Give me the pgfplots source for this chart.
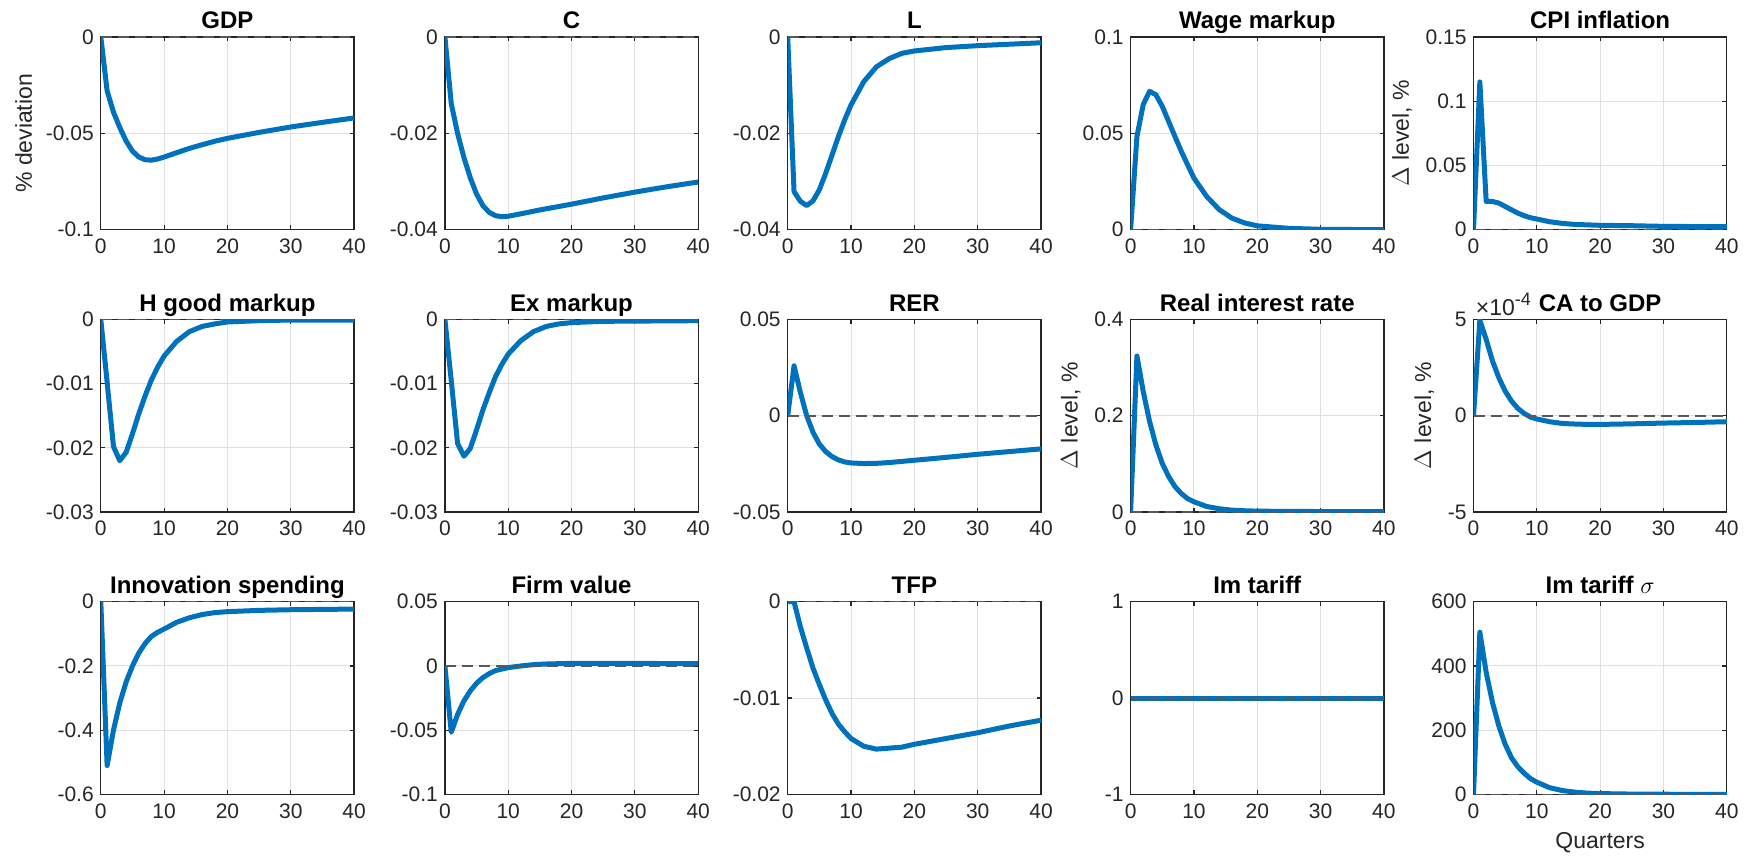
\documentclass[border=0pt]{standalone}
\usepackage{fontspec}
\setmainfont{Liberation Sans}
\usepackage{pgfplots}
\pgfplotsset{compat=1.18}
\definecolor{mblue}{RGB}{0,114,189}
\definecolor{axgray}{RGB}{38,38,38}
\definecolor{gridgray}{RGB}{224,224,224}
\pgfplotsset{
 irf/.style={
  scale only axis, width=126.65pt, height=96.35pt,
  anchor=north west,
  xmin=0, xmax=40, xtick={0,10,20,30,40}, xticklabels={0,10,20,30,40},
  scaled y ticks=false, scaled x ticks=false,
  grid=major, major grid style={gridgray, line width=0.5pt},
  axis line style={axgray, line width=0.6pt},
  tick style={axgray, line width=0.6pt},
  major tick length=2.2pt, tick align=inside,
  ticklabel style={font=\fontsize{10.5}{12}\selectfont, text=axgray},
  xticklabel style={yshift=-1pt},
  title style={font=\fontsize{12}{14}\selectfont\bfseries, at={(0.5,1)}, anchor=base, yshift=-2pt},
  label style={font=\fontsize{11.5}{13}\selectfont, text=axgray},
  clip mode=individual,
 },
 irfline/.style={mblue, line width=2.5pt, line join=round},
 zeroline/.style={black!65, line width=0.8pt, dash pattern=on 5.5pt off 3pt},
}
\begin{document}
\begin{tikzpicture}
\useasboundingbox (0,0) rectangle (878.5pt,-430pt);
% ---------- Row 1 ----------
\begin{axis}[irf, at={(50.4pt,-18.5pt)}, title={GDP}, ylabel={\% deviation},
  ymin=-0.1, ymax=0, ytick={-0.1,-0.05,0}, yticklabels={-0.1,-0.05,0}]
\addplot[irfline] coordinates {(0,0)(1,-0.028)(2,-0.039)(3,-0.047)(4,-0.054)(5,-0.0592)(6,-0.0623)(7,-0.0637)(8,-0.0639)(9,-0.0633)(10,-0.0623)(12,-0.0600)(14,-0.0578)(16,-0.0559)(18,-0.0541)(20,-0.0526)(25,-0.0495)(30,-0.0467)(35,-0.0443)(40,-0.0420)};
\addplot[zeroline] coordinates {(0,0)(40,0)};
\end{axis}
\begin{axis}[irf, at={(222.45pt,-18.5pt)}, title={C},
  ymin=-0.04, ymax=0, ytick={-0.04,-0.02,0}, yticklabels={-0.04,-0.02,0}]
\addplot[irfline] coordinates {(0,0)(1,-0.0138)(2,-0.0200)(3,-0.0250)(4,-0.0292)(5,-0.0326)(6,-0.0350)(7,-0.0364)(8,-0.0371)(9,-0.0373)(10,-0.0372)(12,-0.0367)(15,-0.0359)(20,-0.0347)(25,-0.0334)(30,-0.0322)(35,-0.0311)(40,-0.0301)};
\addplot[zeroline] coordinates {(0,0)(40,0)};
\end{axis}
\begin{axis}[irf, at={(393.85pt,-18.5pt)}, title={L},
  ymin=-0.04, ymax=0, ytick={-0.04,-0.02,0}, yticklabels={-0.04,-0.02,0}]
\addplot[irfline] coordinates {(0,0)(1,-0.0321)(2,-0.0341)(3,-0.0350)(4,-0.0340)(5,-0.0317)(6,-0.0283)(7,-0.0245)(8,-0.0207)(9,-0.0172)(10,-0.0141)(12,-0.0093)(14,-0.0062)(16,-0.0045)(18,-0.0034)(20,-0.0029)(25,-0.0022)(30,-0.0018)(35,-0.0015)(40,-0.0012)};
\addplot[zeroline] coordinates {(0,0)(40,0)};
\end{axis}
\begin{axis}[irf, at={(565.3pt,-18.5pt)}, title={Wage markup},
  ymin=0, ymax=0.1, ytick={0,0.05,0.1}, yticklabels={0,0.05,0.1}]
\addplot[irfline] coordinates {(0,0)(1,0.0484)(2,0.0650)(3,0.0718)(4,0.0700)(5,0.0640)(6,0.0562)(7,0.0484)(8,0.0407)(9,0.0337)(10,0.0268)(12,0.0173)(14,0.0104)(16,0.0060)(18,0.0035)(20,0.0020)(25,0.0007)(30,0.0002)(40,0.0000)};
\addplot[zeroline] coordinates {(0,0)(40,0)};
\end{axis}
\begin{axis}[irf, at={(736.75pt,-18.5pt)}, title={CPI inflation}, ylabel={$\Delta$ level, \%},
  ymin=0, ymax=0.15, ytick={0,0.05,0.1,0.15}, yticklabels={0,0.05,0.1,0.15}]
\addplot[irfline] coordinates {(0,0)(1,0.115)(2,0.022)(3,0.022)(4,0.0207)(5,0.0181)(6,0.0155)(7,0.0129)(8,0.0109)(9,0.0093)(10,0.0083)(12,0.0062)(14,0.0049)(16,0.0041)(20,0.0034)(25,0.0031)(30,0.0026)(40,0.0023)};
\addplot[zeroline] coordinates {(0,0)(40,0)};
\end{axis}
% ---------- Row 2 ----------
\begin{axis}[irf, at={(50.4pt,-159.7pt)}, title={H good markup},
  ymin=-0.03, ymax=0, ytick={-0.03,-0.02,-0.01,0}, yticklabels={-0.03,-0.02,-0.01,0}]
\addplot[irfline] coordinates {(0,0)(1,-0.0098)(2,-0.0198)(3,-0.0220)(4,-0.0207)(5,-0.0178)(6,-0.0147)(7,-0.0119)(8,-0.0094)(9,-0.0074)(10,-0.0057)(12,-0.0034)(14,-0.0019)(16,-0.0011)(18,-0.0007)(20,-0.0004)(25,-0.0002)(30,-0.0001)(40,-0.0001)};
\addplot[zeroline] coordinates {(0,0)(40,0)};
\end{axis}
\begin{axis}[irf, at={(222.45pt,-159.7pt)}, title={Ex markup},
  ymin=-0.03, ymax=0, ytick={-0.03,-0.02,-0.01,0}, yticklabels={-0.03,-0.02,-0.01,0}]
\addplot[irfline] coordinates {(0,0)(1,-0.0095)(2,-0.0193)(3,-0.0213)(4,-0.0201)(5,-0.0172)(6,-0.0141)(7,-0.0114)(8,-0.0089)(9,-0.0070)(10,-0.0054)(12,-0.0033)(14,-0.0019)(16,-0.0011)(18,-0.0007)(20,-0.0005)(25,-0.0003)(40,-0.0002)};
\addplot[zeroline] coordinates {(0,0)(40,0)};
\end{axis}
\begin{axis}[irf, at={(393.85pt,-159.7pt)}, title={RER},
  ymin=-0.05, ymax=0.05, ytick={-0.05,0,0.05}, yticklabels={-0.05,0,0.05}]
\addplot[irfline] coordinates {(0,0)(1,0.0259)(2,0.0121)(3,0.0000)(4,-0.0086)(5,-0.0147)(6,-0.0186)(7,-0.0212)(8,-0.0229)(9,-0.0240)(10,-0.0245)(12,-0.0248)(14,-0.0247)(16,-0.0243)(20,-0.0231)(25,-0.0216)(30,-0.0200)(35,-0.0186)(40,-0.0172)};
\addplot[zeroline] coordinates {(0,0)(40,0)};
\end{axis}
\begin{axis}[irf, at={(565.3pt,-159.7pt)}, title={Real interest rate}, ylabel={$\Delta$ level, \%},
  ymin=0, ymax=0.4, ytick={0,0.2,0.4}, yticklabels={0,0.2,0.4}]
\addplot[irfline] coordinates {(0,0)(1,0.324)(2,0.250)(3,0.188)(4,0.139)(5,0.101)(6,0.074)(7,0.053)(8,0.0386)(9,0.028)(10,0.0214)(12,0.0117)(14,0.0069)(16,0.0041)(18,0.0028)(20,0.0020)(25,0.0014)(30,0.0012)(40,0.0010)};
\addplot[zeroline] coordinates {(0,0)(40,0)};
\end{axis}
\begin{axis}[irf, at={(736.75pt,-159.7pt)}, title={CA to GDP}, ylabel={$\Delta$ level, \%},
  ymin=-5e-4, ymax=5e-4, ytick={-5e-4,0,5e-4}, yticklabels={-5,0,5}]
\addplot[irfline] coordinates {(0,0)(1,4.95e-4)(2,3.96e-4)(3,2.84e-4)(4,1.97e-4)(5,1.28e-4)(6,0.76e-4)(7,0.38e-4)(8,0.12e-4)(9,-0.07e-4)(10,-0.17e-4)(12,-0.31e-4)(14,-0.40e-4)(16,-0.43e-4)(18,-0.45e-4)(20,-0.45e-4)(25,-0.42e-4)(30,-0.38e-4)(35,-0.35e-4)(40,-0.31e-4)};
\addplot[zeroline] coordinates {(0,0)(40,0)};
\node[anchor=south west, inner sep=1pt, yshift=0.5pt, text=axgray, font=\fontsize{11.5}{13}\selectfont] at (rel axis cs:0,1) {×10\raisebox{0.45em}{\fontsize{9}{10}\selectfont -4}};
\end{axis}
% ---------- Row 3 ----------
\begin{axis}[irf, at={(50.4pt,-300.85pt)}, title={Innovation spending},
  ymin=-0.6, ymax=0, ytick={-0.6,-0.4,-0.2,0}, yticklabels={-0.6,-0.4,-0.2,0}]
\addplot[irfline] coordinates {(0,0)(1,-0.510)(2,-0.400)(3,-0.315)(4,-0.250)(5,-0.200)(6,-0.160)(7,-0.130)(8,-0.108)(9,-0.095)(10,-0.085)(12,-0.064)(14,-0.050)(16,-0.040)(18,-0.034)(20,-0.031)(25,-0.027)(30,-0.025)(40,-0.023)};
\addplot[zeroline] coordinates {(0,0)(40,0)};
\end{axis}
\begin{axis}[irf, at={(222.45pt,-300.85pt)}, title={Firm value},
  ymin=-0.1, ymax=0.05, ytick={-0.1,-0.05,0,0.05}, yticklabels={-0.1,-0.05,0,0.05}]
\addplot[irfline] coordinates {(0,0)(1,-0.0516)(2,-0.0378)(3,-0.0273)(4,-0.0195)(5,-0.0135)(6,-0.0091)(7,-0.0060)(8,-0.0036)(10,-0.0013)(12,0.0000)(14,0.0010)(16,0.0015)(20,0.0020)(25,0.0020)(30,0.0020)(40,0.0017)};
\addplot[zeroline] coordinates {(0,0)(40,0)};
\end{axis}
\begin{axis}[irf, at={(393.85pt,-300.85pt)}, title={TFP},
  ymin=-0.02, ymax=0, ytick={-0.02,-0.01,0}, yticklabels={-0.02,-0.01,0}]
\addplot[irfline] coordinates {(0,0)(1,0)(2,-0.0026)(3,-0.0048)(4,-0.0069)(5,-0.0086)(6,-0.0102)(7,-0.0116)(8,-0.0127)(9,-0.0135)(10,-0.0142)(12,-0.0150)(14,-0.0153)(16,-0.0152)(18,-0.0151)(20,-0.0148)(25,-0.0142)(30,-0.0136)(35,-0.0129)(40,-0.0123)};
\addplot[zeroline] coordinates {(0,0)(40,0)};
\end{axis}
\begin{axis}[irf, at={(565.3pt,-300.85pt)}, title={Im tariff},
  ymin=-1, ymax=1, ytick={-1,0,1}, yticklabels={-1,0,1}]
\addplot[irfline] coordinates {(0,0)(10,0)(20,0)(30,0)(40,0)};
\addplot[zeroline] coordinates {(0,0)(40,0)};
\end{axis}
\begin{axis}[irf, at={(736.75pt,-300.85pt)}, title={Im tariff $\sigma$}, xlabel={Quarters},
  ymin=0, ymax=600, ytick={0,200,400,600}, yticklabels={0,200,400,600}]
\addplot[irfline] coordinates {(0,0)(1,505)(2,380)(3,286)(4,213)(5,156)(6,114)(7,86)(8,66)(9,49)(10,38)(12,21)(14,12)(16,7)(18,4)(20,2.5)(25,1)(30,0.5)(40,0.2)};
\addplot[zeroline] coordinates {(0,0)(40,0)};
\end{axis}
\end{tikzpicture}
\end{document}
